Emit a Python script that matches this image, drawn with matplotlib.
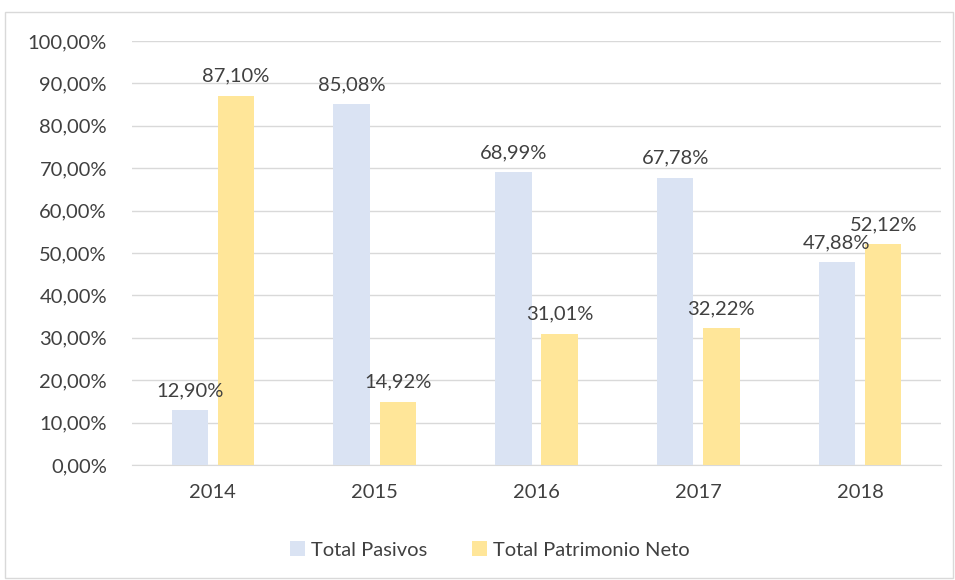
import matplotlib
matplotlib.use("Agg")
import matplotlib.pyplot as plt
import numpy as np
from matplotlib.patches import Rectangle
from matplotlib.ticker import FuncFormatter

years = ["2014", "2015", "2016", "2017", "2018"]
pasivos = [12.90, 85.08, 68.99, 67.78, 47.88]
patrimonio = [87.10, 14.92, 31.01, 32.22, 52.12]
series_names = ["Total Pasivos", "Total Patrimonio Neto"]

plt.rcParams['font.family'] = ['Lato', 'DejaVu Sans']
txt = '#404040'
c_blue = '#DAE3F3'
c_yellow = '#FFE699'
fs = 14.5

fig = plt.figure(figsize=(9.55, 5.8), dpi=100)
fig.patches.append(Rectangle((5/955, 2/580), 948/955, 566/580, transform=fig.transFigure,
                             fill=False, edgecolor='#D9D9D9', linewidth=1))
ax = fig.add_axes([132/955, 1-465/580, (941-132)/955, (465-41)/580])

x = np.arange(len(years))
w = 0.225
off = 0.143
b1 = ax.bar(x - off, pasivos, w, color=c_blue, label=series_names[0], zorder=3)
b2 = ax.bar(x + off, patrimonio, w, color=c_yellow, label=series_names[1], zorder=3)

def fmt(v):
    return f"{v:.2f}".replace('.', ',') + '%'

for xi, v in zip(x - off, pasivos):
    ax.text(xi, v + 2.6, fmt(v), ha='center', va='bottom', fontsize=fs, color=txt)
for xi, v in zip(x + off, patrimonio):
    ax.text(xi, v + 2.6, fmt(v), ha='center', va='bottom', fontsize=fs, color=txt)

ax.set_xlim(-0.5, len(years) - 0.5)
ax.set_ylim(0, 100)
ax.set_yticks(np.arange(0, 101, 10))
ax.yaxis.set_major_formatter(FuncFormatter(lambda v, p: f"{v:.2f}".replace('.', ',') + '%'))
ax.set_xticks(x)
ax.set_xticklabels(years)
ax.tick_params(axis='both', length=0, labelsize=fs, colors=txt)
ax.tick_params(axis='x', pad=14)
ax.tick_params(axis='y', pad=18)
ax.grid(axis='y', color='#D9D9D9', linewidth=1, zorder=0)
for s in ['top', 'right', 'left']:
    ax.spines[s].set_visible(False)
ax.spines['bottom'].set_color('#D9D9D9')

fig.legend(handles=[b1, b2], loc='center', bbox_to_anchor=(490/955, 1-550/580), ncol=2,
           frameon=False, fontsize=fs, labelcolor=txt, handlelength=0.75, handleheight=0.75,
           columnspacing=2.2, handletextpad=0.3)

fig.savefig('out.png', dpi=100)
